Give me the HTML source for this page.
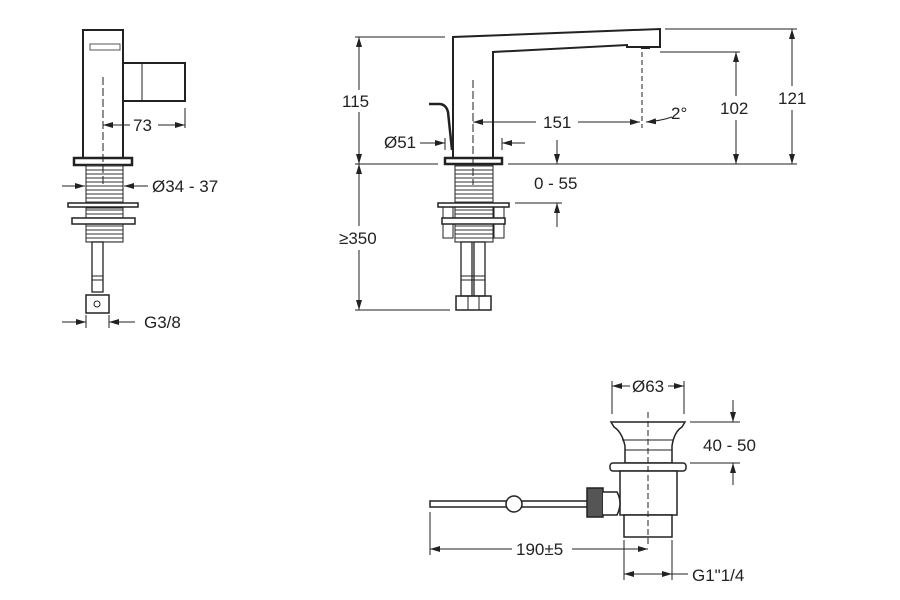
<!DOCTYPE html>
<html><head><style>
html,body{margin:0;padding:0;background:#fff;}
svg{display:block;}
text{font-family:"Liberation Sans",sans-serif;font-size:17px;fill:#222;}
</style></head><body>
<svg width="900" height="600" viewBox="0 0 900 600" xmlns="http://www.w3.org/2000/svg">
<defs>
<pattern id="thr" width="4" height="4" patternUnits="userSpaceOnUse"><rect width="4" height="4" fill="#fff"/><line x1="0" y1="2" x2="4" y2="2" stroke="#555" stroke-width="1.2"/></pattern>
<marker id="a" markerWidth="10" markerHeight="6" refX="10" refY="3" orient="auto-start-reverse" markerUnits="userSpaceOnUse"><path d="M0,0 L10,3 L0,6z" fill="#222"/></marker>
</defs>
<g fill="none" stroke="#222" stroke-width="1">
<!-- LEFT VIEW -->
<rect x="83" y="30" width="40" height="128" stroke-width="2" fill="#fff"/>
<rect x="90" y="44" width="30" height="6" stroke="#555"/>
<path d="M123,63 H185 V101 H123" stroke-width="2"/>
<line x1="142" y1="63" x2="142" y2="101"/>
<rect x="74" y="158" width="58" height="7" stroke-width="2.5" fill="#fff"/>
<rect x="86" y="165" width="37" height="38" fill="url(#thr)"/>
<rect x="86" y="208" width="37" height="34" fill="url(#thr)"/>
<rect x="68" y="203" width="70" height="4" stroke-width="1.5" fill="#fff"/>
<rect x="72" y="218" width="63" height="6" stroke-width="1.5" fill="#fff"/>
<rect x="92" y="242" width="11" height="50" stroke-width="1.3"/>
<line x1="92" y1="276" x2="103" y2="276"/><line x1="92" y1="280" x2="103" y2="280"/>
<rect x="86" y="295" width="23" height="18" stroke-width="1.5"/>
<circle cx="97" cy="304" r="3"/>
<line x1="103" y1="77" x2="103" y2="185" stroke-dasharray="8,3"/>
<line x1="185" y1="108" x2="185" y2="128"/>
<line x1="103" y1="125" x2="130" y2="125" marker-start="url(#a)"/>
<line x1="158" y1="125" x2="185" y2="125" marker-end="url(#a)"/>
<line x1="62" y1="186" x2="85" y2="186" marker-end="url(#a)"/>
<line x1="124" y1="186" x2="148" y2="186" marker-start="url(#a)"/>
<line x1="86" y1="315" x2="86" y2="328"/><line x1="109" y1="315" x2="109" y2="328"/>
<line x1="62" y1="322" x2="86" y2="322" marker-end="url(#a)"/>
<line x1="109" y1="322" x2="135" y2="322" marker-start="url(#a)"/>

<!-- MIDDLE VIEW -->
<path d="M453,158 V37 L660,29 V47 H627 V45 L493,52 V158" stroke-width="2" fill="#fff"/>
<line x1="641" y1="48" x2="650" y2="48" stroke-width="2"/>
<path d="M429,104 H439 Q446,104 448,112 L452,150" stroke-width="2.5"/>
<rect x="445" y="158" width="57" height="6" stroke-width="2.5" fill="#fff"/>
<rect x="443" y="207" width="10" height="31"/><rect x="494" y="207" width="10" height="31"/>
<rect x="455" y="165" width="38" height="38" fill="url(#thr)"/>
<rect x="455" y="207" width="38" height="35" fill="url(#thr)"/>
<rect x="438" y="203" width="71" height="4" stroke-width="1.5" fill="#fff"/>
<rect x="442" y="218" width="63" height="6" stroke-width="1.5" fill="#fff"/>
<rect x="461" y="242" width="11" height="54" stroke-width="1.3"/><rect x="474" y="242" width="11" height="54" stroke-width="1.3"/>
<line x1="461" y1="276" x2="485" y2="276"/><line x1="461" y1="280" x2="485" y2="280"/>
<rect x="456" y="296" width="35" height="14" stroke-width="1.5"/>
<line x1="468" y1="296" x2="468" y2="310"/><line x1="479" y1="296" x2="479" y2="310"/>
<line x1="473" y1="80" x2="473" y2="185" stroke-dasharray="8,3"/>
<line x1="642" y1="52" x2="642" y2="128" stroke-dasharray="5,3"/>
<line x1="355" y1="164" x2="438" y2="164"/>
<line x1="508" y1="164" x2="797" y2="164"/>
<line x1="355" y1="37" x2="445" y2="37"/>
<line x1="665" y1="29" x2="797" y2="29"/>
<line x1="660" y1="52" x2="740" y2="52"/>
<line x1="355" y1="310" x2="450" y2="310"/>
<line x1="359" y1="37" x2="359" y2="90" marker-start="url(#a)"/>
<line x1="359" y1="112" x2="359" y2="164" marker-end="url(#a)"/>
<line x1="359" y1="164" x2="359" y2="226" marker-start="url(#a)"/>
<line x1="359" y1="250" x2="359" y2="310" marker-end="url(#a)"/>
<line x1="792" y1="29" x2="792" y2="86" marker-start="url(#a)"/>
<line x1="792" y1="110" x2="792" y2="164" marker-end="url(#a)"/>
<line x1="736" y1="52" x2="736" y2="96" marker-start="url(#a)"/>
<line x1="736" y1="120" x2="736" y2="164" marker-end="url(#a)"/>
<line x1="473" y1="122" x2="536" y2="122" marker-start="url(#a)"/>
<line x1="578" y1="122" x2="640" y2="122" marker-end="url(#a)"/>
<path d="M672,117 Q660,121 646,122" marker-end="url(#a)"/>
<line x1="445" y1="138" x2="445" y2="150"/><line x1="502" y1="138" x2="502" y2="150"/>
<line x1="420" y1="143" x2="445" y2="143" marker-end="url(#a)"/>
<line x1="502" y1="143" x2="525" y2="143" marker-start="url(#a)"/>
<line x1="557" y1="140" x2="557" y2="164" marker-end="url(#a)"/>
<line x1="515" y1="203" x2="562" y2="203"/>
<line x1="557" y1="227" x2="557" y2="203" marker-end="url(#a)"/>

<!-- DRAIN -->
<line x1="612" y1="381" x2="612" y2="414"/><line x1="684" y1="381" x2="684" y2="414"/>
<line x1="612" y1="386" x2="630" y2="386" marker-start="url(#a)"/>
<line x1="668" y1="386" x2="684" y2="386" marker-end="url(#a)"/>
<path d="M611,422 H685 L682,427 Q674,432 672,446 V463 H625 V446 Q622,432 614,427 Z" stroke-width="1.5" fill="#fff"/>
<line x1="622" y1="440" x2="674" y2="440"/><line x1="625" y1="450" x2="672" y2="450"/>
<rect x="610" y="463" width="76" height="8" rx="3" stroke-width="1.5" fill="#fff"/>
<rect x="620" y="471" width="57" height="44" stroke-width="1.5" fill="#fff"/>
<rect x="624" y="515" width="48" height="22" stroke-width="1.5" fill="#fff"/>
<rect x="430" y="501" width="158" height="6" stroke-width="1.5" fill="#fff"/>
<circle cx="514" cy="504" r="8" stroke-width="1.5" fill="#fff"/>
<rect x="587" y="488" width="16" height="29" stroke-width="1.5" fill="#555"/>
<path d="M603,492 H617 Q623,503 617,515 H603" stroke-width="1.5" fill="#fff"/>
<line x1="648" y1="412" x2="648" y2="545" stroke-dasharray="6,3"/>
<line x1="690" y1="422" x2="740" y2="422"/><line x1="690" y1="463" x2="740" y2="463"/>
<line x1="733" y1="400" x2="733" y2="422" marker-end="url(#a)"/>
<line x1="733" y1="485" x2="733" y2="463" marker-end="url(#a)"/>
<line x1="430" y1="512" x2="430" y2="555"/>
<line x1="430" y1="549" x2="512" y2="549" marker-start="url(#a)"/>
<line x1="572" y1="549" x2="648" y2="549" marker-end="url(#a)"/>
<line x1="624" y1="540" x2="624" y2="580"/><line x1="672" y1="540" x2="672" y2="580"/>
<line x1="624" y1="574" x2="672" y2="574" marker-start="url(#a)" marker-end="url(#a)"/>
<line x1="672" y1="574" x2="688" y2="574"/>
</g>
<g>
<text x="133" y="131">73</text>
<text x="152" y="192">Ø34 - 37</text>
<text x="144" y="328">G3/8</text>
<text x="342" y="107">115</text>
<text x="339" y="244">≥350</text>
<text x="778" y="104">121</text>
<text x="720" y="114">102</text>
<text x="543" y="128">151</text>
<text x="671" y="119">2°</text>
<text x="384" y="148">Ø51</text>
<text x="534" y="189">0 - 55</text>
<text x="632" y="392">Ø63</text>
<text x="703" y="451">40 - 50</text>
<text x="516" y="555">190±5</text>
<text x="692" y="581">G1"1/4</text>
</g>
</svg>
</body></html>
